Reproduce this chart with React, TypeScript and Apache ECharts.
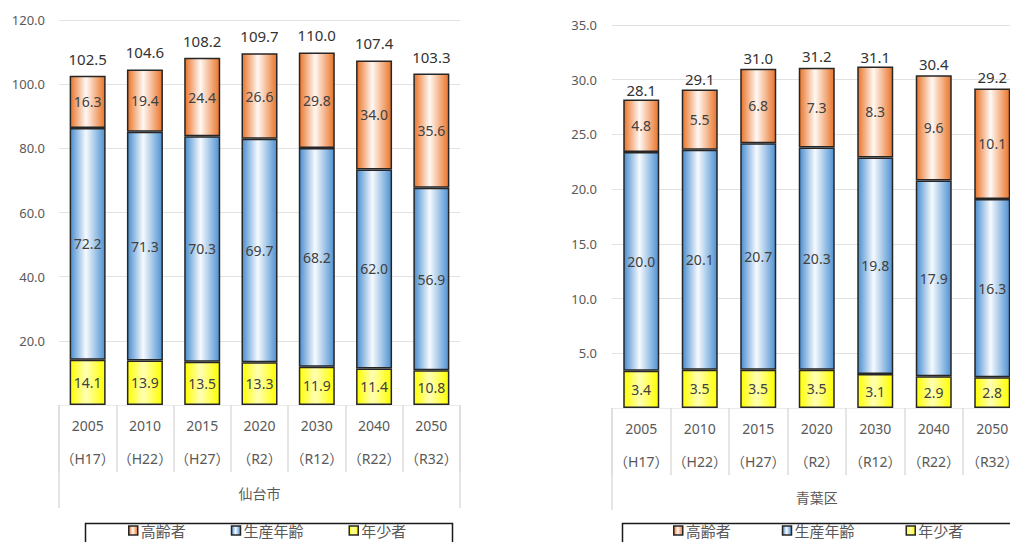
import React, { useEffect, useRef } from "react";
import * as echarts from "echarts";

const years = ["2005", "2010", "2015", "2020", "2030", "2040", "2050"];
const eras = ["（H17）", "（H22）", "（H27）", "（R2）", "（R12）", "（R22）", "（R32）"];
const seriesNames = ["高齢者", "生産年齢", "年少者"];

const sendaiGroup = "仙台市";
const sendaiYoung = [14.1, 13.9, 13.5, 13.3, 11.9, 11.4, 10.8];
const sendaiWorking = [72.2, 71.3, 70.3, 69.7, 68.2, 62.0, 56.9];
const sendaiElderly = [16.3, 19.4, 24.4, 26.6, 29.8, 34.0, 35.6];
const sendaiTotal = [102.5, 104.6, 108.2, 109.7, 110.0, 107.4, 103.3];

const aobaGroup = "青葉区";
const aobaYoung = [3.4, 3.5, 3.5, 3.5, 3.1, 2.9, 2.8];
const aobaWorking = [20.0, 20.1, 20.7, 20.3, 19.8, 17.9, 16.3];
const aobaElderly = [4.8, 5.5, 6.8, 7.3, 8.3, 9.6, 10.1];
const aobaTotal = [28.1, 29.1, 31.0, 31.2, 31.1, 30.4, 29.2];

const FONT = "'Noto Sans', 'Noto Sans CJK JP', sans-serif";

const grad = (edge: string, mid: string, edge2: string) => ({
  type: "linear",
  x: 0,
  y: 0,
  x2: 1,
  y2: 0,
  colorStops: [
    { offset: 0, color: edge },
    { offset: 0.45, color: mid },
    { offset: 1, color: edge2 },
  ],
});

const orangeFill = grad("#EA7429", "#FFF8F3", "#EA7429");
const blueFill = grad("#4A8ED0", "#F6FAFE", "#4F92D2");
const yellowFill = grad("#FFFF00", "#FFFFB4", "#FFFF00");

const border = { borderColor: "#262626", borderWidth: 1.5 };

export default function App() {
  const ref = useRef<HTMLDivElement>(null);

  useEffect(() => {
    if (!ref.current) return;
    const chart = echarts.init(ref.current, null, { renderer: "svg" });

    const catData = years.map((y, i) => `${y}\n${eras[i]}`);

    const xAxisPair = (gridIndex: number, group: string, tickLen: number, groupMargin: number) => [
      {
        type: "category",
        gridIndex,
        position: "bottom",
        data: catData,
        axisLine: { show: true, lineStyle: { color: "#ebebeb", width: 1 } },
        axisTick: {
          show: true,
          interval: 0,
          alignWithLabel: false,
          length: 67,
          lineStyle: { color: "#dcdcdc", width: 1.5 },
        },
        axisLabel: {
          interval: 0,
          fontFamily: FONT,
          fontSize: 14,
          color: "#595959",
          lineHeight: 33,
          margin: 4,
        },
      },
      {
        type: "category",
        gridIndex,
        position: "bottom",
        data: [group],
        axisLine: { show: false },
        axisTick: {
          show: true,
          interval: 0,
          length: tickLen,
          lineStyle: { color: "#dcdcdc", width: 1.5 },
        },
        axisLabel: {
          fontFamily: FONT,
          fontSize: 14,
          color: "#595959",
          margin: groupMargin,
        },
      },
    ];

    const yAxisDef = (gridIndex: number, max: number, interval: number, margin: number) => ({
      type: "value",
      gridIndex,
      min: 0,
      max,
      interval,
      axisLine: { show: false },
      axisTick: { show: false },
      splitLine: { show: true, lineStyle: { color: "#e2e2e2", width: 1 } },
      axisLabel: {
        fontFamily: FONT,
        fontSize: 13,
        color: "#595959",
        margin,
        formatter: (v: number) => (v === 0 ? "" : v.toFixed(1)),
      },
    });

    const innerLabel = {
      show: true,
      position: "inside",
      fontFamily: FONT,
      fontSize: 14,
      color: "#404040",
      formatter: (p: any) => Number(p.value).toFixed(1),
    };

    const stackSeries = (
      idx: number,
      stack: string,
      young: number[],
      working: number[],
      elderly: number[],
      total: number[],
      totalDist: number
    ) => [
      {
        name: "年少者",
        type: "bar",
        stack,
        xAxisIndex: idx * 2,
        yAxisIndex: idx,
        barWidth: 36,
        data: young,
        itemStyle: { color: yellowFill, ...border },
        label: innerLabel,
      },
      {
        name: "生産年齢",
        type: "bar",
        stack,
        xAxisIndex: idx * 2,
        yAxisIndex: idx,
        barWidth: 36,
        data: working,
        itemStyle: { color: blueFill, ...border },
        label: innerLabel,
      },
      {
        name: "高齢者",
        type: "bar",
        stack,
        xAxisIndex: idx * 2,
        yAxisIndex: idx,
        barWidth: 36,
        data: elderly,
        itemStyle: { color: orangeFill, ...border },
        label: innerLabel,
      },
      {
        name: "合計" + stack,
        type: "line",
        xAxisIndex: idx * 2,
        yAxisIndex: idx,
        data: total,
        symbol: "circle",
        symbolSize: 1,
        silent: true,
        itemStyle: { color: "transparent" },
        lineStyle: { opacity: 0 },
        label: {
          show: true,
          position: "top",
          distance: totalDist,
          fontFamily: FONT,
          fontSize: 15,
          color: "#333333",
          formatter: (p: any) => Number(p.value).toFixed(1),
        },
        z: 5,
      },
    ];

    const legendDef = (left: number, gap: number) => ({
      data: seriesNames,
      left,
      top: 523,
      orient: "horizontal",
      icon: "rect",
      itemWidth: 9,
      itemHeight: 9,
      itemGap: gap,
      padding: 0,
      selectedMode: false,
      itemStyle: { borderColor: "#262626", borderWidth: 1.5 },
      textStyle: { fontFamily: FONT, fontSize: 15, color: "#595959", padding: [0, 0, 0, -2] },
    });

    chart.setOption({
      animation: false,
      backgroundColor: "#ffffff",
      textStyle: { fontFamily: FONT },
      grid: [
        { left: 59, top: 20, width: 401, height: 385, outerBoundsMode: "none", containLabel: false },
        { left: 612, top: 25, width: 409.5, height: 383, outerBoundsMode: "none", containLabel: false },
      ],
      xAxis: [...xAxisPair(0, sendaiGroup, 103, 81), ...xAxisPair(1, aobaGroup, 102, 82)],
      yAxis: [yAxisDef(0, 120, 20, 14), yAxisDef(1, 35, 5, 15)],
      legend: [legendDef(128, 45), legendDef(673, 51)],
      graphic: [
        {
          type: "rect",
          left: 83,
          top: 521,
          shape: { width: 367, height: 40 },
          style: { fill: "none", stroke: "#1a1a1a", lineWidth: 1.5 },
          silent: true,
        },
        {
          type: "rect",
          left: 620,
          top: 521,
          shape: { width: 420, height: 40 },
          style: { fill: "none", stroke: "#1a1a1a", lineWidth: 1.5 },
          silent: true,
        },
      ],
      series: [
        ...stackSeries(0, "L", sendaiYoung, sendaiWorking, sendaiElderly, sendaiTotal, 9),
        ...stackSeries(1, "R", aobaYoung, aobaWorking, aobaElderly, aobaTotal, 3),
      ],
    });

    return () => chart.dispose();
  }, []);

  return (
    <div
      ref={ref}
      style={{ position: "absolute", left: 0, top: 0, width: 1010, height: 542 }}
    />
  );
}
